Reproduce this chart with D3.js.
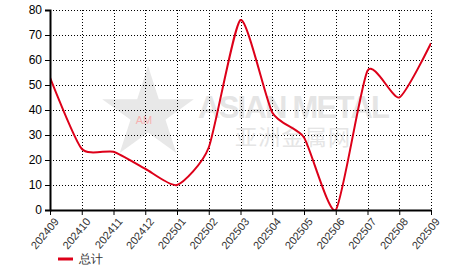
<!DOCTYPE html>
<html lang="zh">
<head>
<meta charset="UTF-8">
<title>总计</title>
<script src="https://d3js.org/d3.v7.min.js"></script>
<style>
  body { margin: 0; background: #fff; }
  svg { display: block; font-family: "Liberation Sans", Arial, sans-serif; }
</style>
</head>
<body>
<svg width="466" height="272"></svg>
<script>
// data
var months = ["202409","202410","202411","202412","202501","202502","202503",
              "202504","202505","202506","202507","202508","202509"];
var totals = [53, 24.5, 23.3, 16.5, 10, 25, 76, 39, 29, 0, 55.7, 45, 66.7];
var yTicks = [0, 10, 20, 30, 40, 50, 60, 70, 80];
var seriesName = "总计";

var margin = {top: 10, left: 50, right: 35, bottom: 62};
var width = 466 - margin.left - margin.right;
var height = 272 - margin.top - margin.bottom;

var svg = d3.select("svg");
var g = svg.append("g")
    .attr("transform", "translate(" + margin.left + "," + margin.top + ")");

var x = d3.scalePoint().domain(months).range([0, width]);
var y = d3.scaleLinear().domain([0, 80]).range([height, 0]);

// watermark
var wm = g.append("g");
var star = d3.symbol().type(d3.symbolStar).size(2600);
wm.append("path")
    .attr("d", star())
    .attr("transform", "translate(98,104)")
    .attr("fill", "#e8e8e8");
wm.append("text").attr("x", 94).attr("y", 114)
    .attr("text-anchor", "middle").attr("font-size", 11)
    .attr("fill", "#f7b0b0").text("AM");
wm.append("text").attr("x", 148).attr("y", 108)
    .attr("font-size", 31).attr("font-weight", "bold")
    .attr("textLength", 192).attr("fill", "#e5e5e5").text("ASIAN METAL");
wm.append("text").attr("x", 185).attr("y", 135)
    .attr("font-family", "Noto Sans CJK SC").attr("font-size", 22)
    .attr("textLength", 115).attr("fill", "#e5e5e5").text("亚洲金属网");

// grid
g.append("g").selectAll("line").data(yTicks.slice(1)).join("line")
    .attr("x1", 0).attr("x2", width)
    .attr("y1", function(d) { return Math.round(y(d)) + 0.5; })
    .attr("y2", function(d) { return Math.round(y(d)) + 0.5; })
    .attr("stroke", "#000").attr("stroke-dasharray", "1,2");
g.append("g").selectAll("line").data(months.slice(1)).join("line")
    .attr("x1", function(d) { return Math.round(x(d)) + 0.5; })
    .attr("x2", function(d) { return Math.round(x(d)) + 0.5; })
    .attr("y1", 0).attr("y2", height)
    .attr("stroke", "#000").attr("stroke-dasharray", "1,2");

// line
g.append("clipPath").attr("id", "plot")
  .append("rect").attr("width", width).attr("height", height);

var line = d3.line()
    .x(function(d, i) { return x(months[i]); })
    .y(function(d) { return y(d); })
    .curve(d3.curveCardinal.tension(0.4));

g.append("path")
    .datum(totals)
    .attr("clip-path", "url(#plot)")
    .attr("d", line)
    .attr("fill", "none")
    .attr("stroke", "#dd0019")
    .attr("stroke-width", 2);

// axes
var yAxis = g.append("g")
    .call(d3.axisLeft(y).tickValues(yTicks).tickSize(5).tickPadding(3));
yAxis.select(".domain").attr("stroke-width", 2);
yAxis.selectAll("text").attr("font-size", 12).attr("fill", "#000");

var xAxis = g.append("g")
    .attr("transform", "translate(0," + height + ")")
    .call(d3.axisBottom(x).tickSize(5).tickSizeOuter(0));
xAxis.select(".domain").attr("stroke-width", 2);
xAxis.selectAll("text")
    .attr("font-size", 11).attr("fill", "#333")
    .attr("text-anchor", "end")
    .attr("dx", "-0.3em").attr("dy", "0.6em")
    .attr("transform", "rotate(-50)");

// legend
var legend = svg.append("g").attr("transform", "translate(58,259)");
legend.append("line").attr("x1", 0).attr("x2", 15)
    .attr("stroke", "#dd0019").attr("stroke-width", 3);
legend.append("text").attr("x", 21).attr("y", 4)
    .attr("font-size", 12).attr("fill", "#333").text(seriesName);
</script>
</body>
</html>
